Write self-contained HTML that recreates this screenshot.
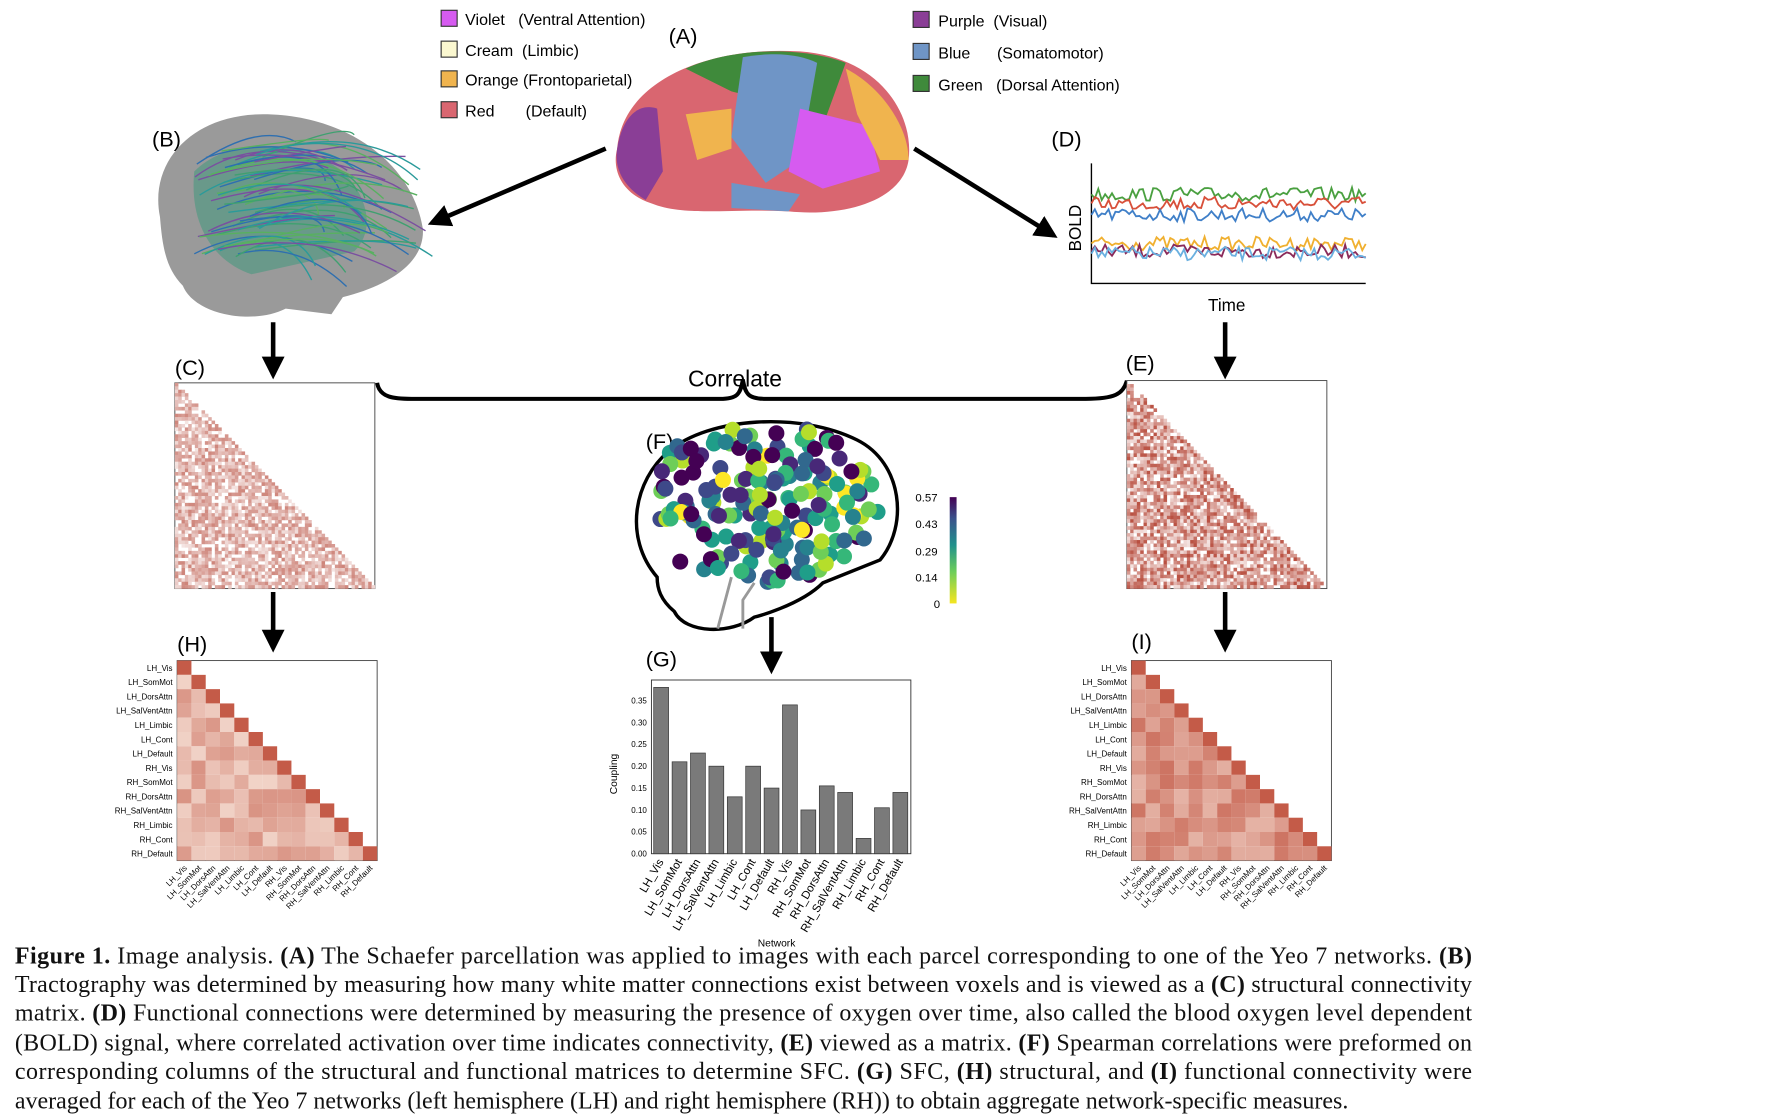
<!DOCTYPE html>
<html><head><meta charset="utf-8">
<style>
html,body{margin:0;padding:0;background:#fff;}
svg{display:block;}
text{font-family:"Liberation Sans",sans-serif;}
.cap text{font-family:"Liberation Serif",serif;font-size:21px;fill:#111;}
.leg text{white-space:pre;}
</style></head>
<body>
<svg id="s" width="1776" height="1120" viewBox="0 0 1554 980" xmlns="http://www.w3.org/2000/svg">
<defs>
<marker id="ah" viewBox="0 0 10 10" refX="8" refY="5" markerWidth="5" markerHeight="5" orient="auto"><path d="M0,0 L10,5 L0,10 z" fill="#000"/></marker>
<linearGradient id="cb" x1="0" y1="1" x2="0" y2="0"><stop offset="0" stop-color="#f5e520"/><stop offset="0.3" stop-color="#6ccd5a"/><stop offset="0.55" stop-color="#21918c"/><stop offset="0.8" stop-color="#3b528b"/><stop offset="1" stop-color="#440154"/></linearGradient>
</defs>
<g font-size="14" class="leg" xml:space="preserve">
<rect x="386" y="9" width="14" height="14" fill="#d65bf0" stroke="#333"/><text x="407" y="22">Violet   (Ventral Attention)</text>
<rect x="386" y="36" width="14" height="14" fill="#fbf8d0" stroke="#333"/><text x="407" y="49">Cream  (Limbic)</text>
<rect x="386" y="62" width="14" height="14" fill="#f0b44e" stroke="#333"/><text x="407" y="75">Orange (Frontoparietal)</text>
<rect x="386" y="89" width="14" height="14" fill="#d96670" stroke="#333"/><text x="407" y="102">Red       (Default)</text>
<rect x="799" y="10" width="14" height="14" fill="#8a3e96" stroke="#333"/><text x="821" y="23">Purple  (Visual)</text>
<rect x="799" y="38" width="14" height="14" fill="#6f95c6" stroke="#333"/><text x="821" y="51">Blue      (Somatomotor)</text>
<rect x="799" y="66" width="14" height="14" fill="#3f8a3b" stroke="#333"/><text x="821" y="79">Green   (Dorsal Attention)</text>
</g>
<g font-size="19"><text x="585" y="38">(A)</text><text x="133" y="128">(B)</text><text x="920" y="128">(D)</text>
<text x="153" y="328">(C)</text><text x="985" y="324">(E)</text><text x="565" y="393">(F)</text>
<text x="155" y="570">(H)</text><text x="565" y="583">(G)</text><text x="990" y="568">(I)</text>
<text x="602" y="338" font-size="20">Correlate</text></g>
<g>
<path d="M540,130 C545,70 620,40 700,45 C770,50 800,100 795,140 C790,175 740,190 690,185 C640,182 600,190 570,178 C545,170 535,150 540,130 Z" fill="#d96670"/>
<path d="M600,60 C640,42 700,40 740,55 L720,110 L680,90 L640,80 Z" fill="#3f8a3b"/>
<path d="M650,50 C680,45 700,48 715,55 L700,140 L670,160 L640,120 Z" fill="#6f95c6"/>
<path d="M700,95 L760,110 L770,150 L720,165 L690,150 Z" fill="#d65bf0"/>
<path d="M740,60 C770,75 795,110 795,140 L770,140 L750,100 Z" fill="#f0b44e"/>
<path d="M540,130 C545,100 560,90 575,95 L580,150 L565,175 C548,165 537,150 540,130 Z" fill="#8a3e96"/>
<path d="M600,100 L640,95 L640,130 L610,140 Z" fill="#f0b44e"/>
<path d="M640,160 L700,170 L690,185 L640,182 Z" fill="#6f95c6"/>
</g>
<path d="M140,190 C130,140 170,100 230,100 C300,100 360,140 370,200 C372,230 340,250 300,260 L290,275 L250,270 C220,285 170,275 160,250 C145,235 142,215 140,190 Z" fill="#9a9a9a"/>
<path d="M170,150 C200,120 260,120 300,150 C320,170 330,200 310,220 L220,240 C190,230 165,200 170,150 Z" fill="#4a9a80" opacity="0.6"/>
<g id="fib" stroke-width="1.2" fill="none"></g>
<g stroke="#000" stroke-width="4" marker-end="url(#ah)">
<line x1="530" y1="130" x2="378" y2="195"/><line x1="800" y1="130" x2="922" y2="206"/>
<line x1="239" y1="282" x2="239" y2="328"/><line x1="1072" y1="282" x2="1072" y2="328"/>
<line x1="239" y1="518" x2="239" y2="567"/><line x1="675" y1="540" x2="675" y2="586"/><line x1="1072" y1="518" x2="1072" y2="567"/>
</g>
<path d="M330,335 C332,348 345,349 360,349 L630,349 C645,349 648,345 650,332 C652,345 655,349 670,349 L950,349 C975,349 983,345 986,333" fill="none" stroke="#000" stroke-width="3.5"/>
<path d="M955,143 L955,248 L1195,248" fill="none" stroke="#000" stroke-width="1.2"/>
<text x="946" y="220" font-size="15" transform="rotate(-90 946 220)">BOLD</text>
<text x="1057" y="272" font-size="15">Time</text>
<g id="bold" fill="none" stroke-width="1.6"></g>
<rect x="153" y="335" width="175" height="180" fill="#fff" stroke="#444" stroke-width="0.8"/><g id="mc"></g>
<rect x="986" y="333" width="175" height="182" fill="#fff" stroke="#444" stroke-width="0.8"/><g id="me"></g>
<path d="M575,505 C545,470 555,420 585,395 C620,365 700,360 750,385 C790,405 795,460 770,490 L720,510 C700,530 660,540 660,540 C640,555 600,555 590,535 C578,525 575,515 575,505 Z" fill="#fff" stroke="#000" stroke-width="3"/>
<path d="M640,505 L628,550 M660,510 L650,525 L650,550" stroke="#999" stroke-width="2.5" fill="none"/>
<g id="dots"></g>
<rect x="831" y="435" width="6" height="93" fill="url(#cb)"/>
<g font-size="10"><text x="801" y="439">0.57</text><text x="801" y="462">0.43</text><text x="801" y="486">0.29</text><text x="801" y="509">0.14</text><text x="817" y="532">0</text></g>
<rect x="155" y="578" width="175" height="175" fill="#fff" stroke="#444" stroke-width="0.8"/><g id="mh"></g>
<rect x="990" y="578" width="175" height="175" fill="#fff" stroke="#444" stroke-width="0.8"/><g id="mi"></g>
<g id="lbl" font-size="7"></g>
<rect x="570" y="595" width="227" height="152" fill="#fff" stroke="#333" stroke-width="0.8"/>
<g id="bars"></g>
<text x="540" y="695" font-size="9" transform="rotate(-90 540 695)">Coupling</text>
<text x="663" y="828" font-size="9">Network</text>
<g class="cap">
<text x="13" y="843" textLength="1275" lengthAdjust="spacing"><tspan font-weight="bold">Figure 1.</tspan> Image analysis. <tspan font-weight="bold">(A)</tspan> The Schaefer parcellation was applied to images with each parcel corresponding to one of the Yeo 7 networks. <tspan font-weight="bold">(B)</tspan></text>
<text x="13" y="868" textLength="1275" lengthAdjust="spacing">Tractography was determined by measuring how many white matter connections exist between voxels and is viewed as a <tspan font-weight="bold">(C)</tspan> structural connectivity</text>
<text x="13" y="893" textLength="1275" lengthAdjust="spacing">matrix. <tspan font-weight="bold">(D)</tspan> Functional connections were determined by measuring the presence of oxygen over time, also called the blood oxygen level dependent</text>
<text x="13" y="919" textLength="1275" lengthAdjust="spacing">(BOLD) signal, where correlated activation over time indicates connectivity, <tspan font-weight="bold">(E)</tspan> viewed as a matrix. <tspan font-weight="bold">(F)</tspan> Spearman correlations were preformed on</text>
<text x="13" y="944" textLength="1275" lengthAdjust="spacing">corresponding columns of the structural and functional matrices to determine SFC. <tspan font-weight="bold">(G)</tspan> SFC, <tspan font-weight="bold">(H)</tspan> structural, and <tspan font-weight="bold">(I)</tspan> functional connectivity were</text>
<text x="13" y="970">averaged for each of the Yeo 7 networks (left hemisphere (LH) and right hemisphere (RH)) to obtain aggregate network-specific measures.</text>
</g>
</svg>
<script>
var NS="http://www.w3.org/2000/svg",seed=7;function r(){seed=(seed*16807)%2147483647;return seed/2147483647;}
function el(p,t,a){var e=document.createElementNS(NS,t);for(var k in a)e.setAttribute(k,a[k]);document.getElementById(p).appendChild(e);return e;}
var fc=["#2e6fb0","#3fa070","#7a4fa0","#58b060","#2a9a9a"];
for(var i=0;i<60;i++){var x=170+r()*60,y=130+r()*100;el("fib","path",{d:"M"+x+","+y+" Q"+(x+50+r()*50)+","+(y-40+r()*30)+" "+(x+80+r()*80)+","+(y-20+r()*50),stroke:fc[i%5]});}
var bc=[["#4aa040",170],["#d8503a",178],["#3f7fc8",188],["#f0b030",213],["#8a2a5a",220],["#6ab0e0",222]];
bc.forEach(function(c){var d="M955,"+c[1];for(var x=958;x<=1195;x+=3)d+=" L"+x+","+(c[1]+(r()-0.5)*12);el("bold","path",{d:d,stroke:c[0]});});
function tri(id,x0,y0,w,h,n,dens){var cw=w/n,ch=h/n;for(var i=0;i<n;i++)for(var j=0;j<=i;j++){var v=r()*dens;if(v<0.15)continue;var a=Math.min(1,v);el(id,"rect",{x:x0+j*cw,y:y0+i*ch,width:cw+0.2,height:ch+0.2,fill:"rgb("+Math.round(255-a*70)+","+Math.round(255-a*175)+","+Math.round(255-a*190)+")"});}}
tri("mc",153,335,175,180,60,0.7);tri("me",986,333,175,182,60,1.0);
function tri2(id,x0,y0,n,s,base){for(var i=0;i<n;i++)for(var j=0;j<=i;j++){var a=i==j?0.9:base+r()*0.4;el(id,"rect",{x:x0+j*s,y:y0+i*s,width:s,height:s,fill:"rgb("+Math.round(250-a*60)+","+Math.round(235-a*160)+","+Math.round(225-a*170)+")"});}}
tri2("mh",155,578,14,12.5,0.15);tri2("mi",990,578,14,12.5,0.35);
var L=["LH_Vis","LH_SomMot","LH_DorsAttn","LH_SalVentAttn","LH_Limbic","LH_Cont","LH_Default","RH_Vis","RH_SomMot","RH_DorsAttn","RH_SalVentAttn","RH_Limbic","RH_Cont","RH_Default"];
[[155],[990]].forEach(function(p){var x0=p[0];L.forEach(function(t,i){var e=el("lbl","text",{x:x0-4,y:578+i*12.5+9,"text-anchor":"end"});e.textContent=t;var f=el("lbl","text",{x:x0+i*12.5+9,y:760,"text-anchor":"end",transform:"rotate(-45 "+(x0+i*12.5+9)+" 760)"});f.textContent=t;});});
var vc=["#fde725","#b5de2b","#6ece58","#35b779","#1f9e89","#26828e","#31688e","#3e4989","#482878","#440154"];
for(var i=0;i<220;i++){var x=570+r()*200,y=375+r()*140;if(((x-665)/105)**2+((y-440)/70)**2>1)continue;el("dots","circle",{cx:x,cy:y,r:7,fill:vc[Math.floor(r()*10)]});}
var bv=[0.38,0.21,0.23,0.20,0.13,0.20,0.15,0.34,0.10,0.155,0.14,0.035,0.105,0.14];
bv.forEach(function(v,i){var x=572+i*16.1,h=v*383;el("bars","rect",{x:x,y:747-h,width:13,height:h,fill:"#7a7a7a",stroke:"#333","stroke-width":0.6});var t=el("bars","text",{x:x+9,y:754,"font-size":10,"text-anchor":"end",transform:"rotate(-60 "+(x+9)+" 754)"});t.textContent=L[i];});
[0,0.05,0.1,0.15,0.2,0.25,0.3,0.35].forEach(function(v){var y=747-v*383;var t=el("bars","text",{x:566,y:y+2.5,"font-size":7,"text-anchor":"end"});t.textContent=v.toFixed(2);});
</script>
</body></html>
